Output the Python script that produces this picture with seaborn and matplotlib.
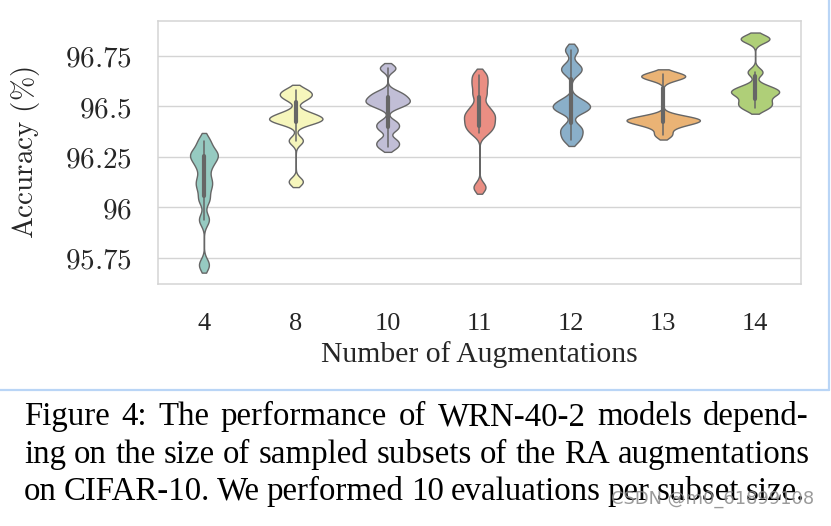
import numpy as np
import pandas as pd
import matplotlib
matplotlib.use("Agg")
import matplotlib.pyplot as plt
from matplotlib.lines import Line2D
from matplotlib import font_manager
import seaborn as sns

# ---- data (10 evaluations per subset size) ----
n_aug = ["4", "8", "10", "11", "12", "13", "14"]
acc_4 = [95.716, 95.94, 96.04, 96.10, 96.14, 96.20, 96.24, 96.26, 96.28, 96.33]
acc_8 = [96.128, 96.331, 96.42, 96.43, 96.44, 96.45, 96.47, 96.54, 96.56, 96.58]
acc_10 = [96.30, 96.33, 96.39, 96.42, 96.50, 96.52, 96.53, 96.55, 96.57, 96.69]
acc_11 = [96.10, 96.37, 96.40, 96.42, 96.45, 96.465, 96.50, 96.56, 96.61, 96.655]
acc_12 = [96.335, 96.37, 96.40, 96.48, 96.49, 96.51, 96.53, 96.67, 96.70, 96.78]
acc_13 = [96.36, 96.40, 96.42, 96.43, 96.43, 96.44, 96.45, 96.64, 96.65, 96.66]
acc_14 = [96.49, 96.51, 96.53, 96.56, 96.57, 96.58, 96.60, 96.67, 96.83, 96.84]
y_ticks = [95.75, 96.0, 96.25, 96.5, 96.75]
y_tick_labels = ["95.75", "96", "96.25", "96.5", "96.75"]
caption_lines = [
    "Figure 4:  The performance of WRN-40-2 models depend-",
    "ing on the size of sampled subsets of the RA augmentations",
    "on CIFAR-10. We performed 10 evaluations per subset size.",
]
watermark = "CSDN @m0_61899108"

groups = [acc_4, acc_8, acc_10, acc_11, acc_12, acc_13, acc_14]
df = pd.DataFrame({
    "n": np.repeat(n_aug, [len(g) for g in groups]),
    "acc": np.concatenate(groups),
})

sns.set_theme(style="whitegrid")
plt.rcParams["mathtext.fontset"] = "cm"
serif = ["Liberation Serif", "DejaVu Serif"]

W, H = 831, 526
fig = plt.figure(figsize=(W / 100, H / 100), dpi=100)
fig.patch.set_facecolor("white")

def fx(px):
    return px / W

def fy(py):
    return 1 - py / H

ax_l, ax_r, ax_t, ax_b = 158, 801, 21, 284
ax = fig.add_axes([fx(ax_l), fy(ax_b), (ax_r - ax_l) / W, (ax_b - ax_t) / H])

sns.violinplot(
    data=df, x="n", y="acc", hue="n", order=n_aug, hue_order=n_aug,
    palette="Set3", legend=False, ax=ax, cut=1.3, bw_method=0.16,
    inner="box", linewidth=1.0, linecolor="#666666", saturation=0.75,
    density_norm="area", common_norm=True, width=0.8,
    inner_kws=dict(box_width=3.0, whis_width=1.1, marker=""),
)

ax.set_ylim(95.621, 96.923)
ax.set_xlim(-0.5, 6.5)
ax.set_yticks(y_ticks)
ax.set_yticklabels(["$" + t + "$" for t in y_tick_labels], fontsize=21)
ax.tick_params(axis="y", length=0, pad=19)
ax.tick_params(axis="x", length=0, pad=21)
for lab in ax.get_xticklabels():
    lab.set_fontfamily(serif)
    lab.set_fontsize(19)
ax.grid(axis="x", visible=False)
ax.grid(axis="y", color="#d4d4d4", linewidth=1.0)
for s in ax.spines.values():
    s.set_color("#d4d4d4")
    s.set_linewidth(1.1)

ax.set_ylabel(r"$\mathrm{Accuracy\ (\%)}$", fontsize=21)
ax.yaxis.set_label_coords(-0.180, 0.5)
ax.set_xlabel("Number of Augmentations", fontsize=21.3, family=serif)
ax.xaxis.set_label_coords(0.5, -0.215)

# light-blue frame of the screenshot
fig.add_artist(Line2D([fx(0), fx(828.5)], [fy(389.5), fy(389.5)],
                      transform=fig.transFigure, color="#b9d5f6", lw=1.6))
fig.add_artist(Line2D([fx(828.5), fx(828.5)], [fy(0), fy(389.5)],
                      transform=fig.transFigure, color="#b9d5f6", lw=1.6))

# justified caption; font size fitted so that the text fills the column
renderer = fig.canvas.get_renderer()
baselines = [425, 462.7, 500]
rights = [809, 810, 805]
left = 24

def word_widths(words, size):
    out = []
    for w in words:
        t = fig.text(0, 0, w, fontsize=size, family=serif)
        out.append(t.get_window_extent(renderer).width)
        t.remove()
    return out

t2 = fig.text(0, 0, "a a", fontsize=20, family=serif)
t3 = fig.text(0, 0, "aa", fontsize=20, family=serif)
space20 = t2.get_window_extent(renderer).width - t3.get_window_extent(renderer).width
t2.remove()
t3.remove()

base_size = 20.0
fits = []
for line, right in zip(caption_lines[:2], rights[:2]):
    words = line.split()
    natural = sum(word_widths(words, base_size)) + space20 * (len(words) - 1)
    fits.append(base_size * (right - left) / natural)
cap_size = min(fits)

for line, base, right in zip(caption_lines, baselines, rights):
    words = line.split()
    widths = word_widths(words, cap_size)
    gap = (right - left - sum(widths)) / (len(words) - 1)
    x = left
    for w, wd in zip(words, widths):
        fig.text(fx(x), fy(base), w, fontsize=cap_size, family=serif,
                 ha="left", va="baseline", color="black", zorder=2)
        x += wd + gap

# watermark
names = {f.name for f in font_manager.fontManager.ttflist}
wm_family = "Liberation Sans Narrow" if "Liberation Sans Narrow" in names else "DejaVu Sans"
t = fig.text(0, 0, watermark, fontsize=14, family=wm_family)
wd = t.get_window_extent(renderer).width
t.remove()
wm_size = 14 * 203 / wd
fig.text(fx(611), fy(504), watermark, fontsize=wm_size, family=wm_family,
         ha="left", va="baseline", color="#8a8a8a", alpha=0.85, zorder=5)

fig.savefig("out.png", dpi=100, facecolor="white")
